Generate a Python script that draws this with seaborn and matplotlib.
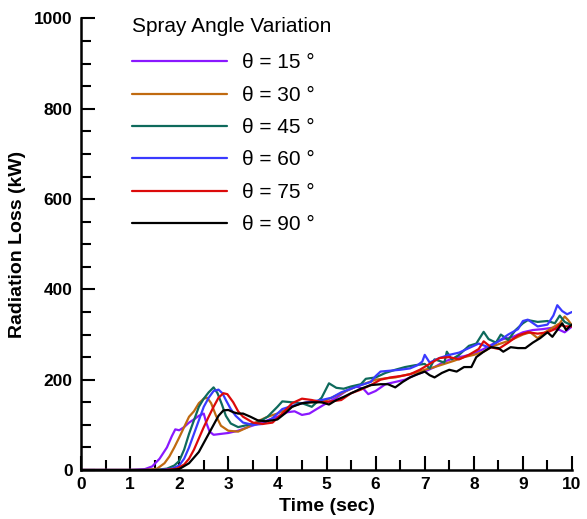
import numpy as np
import pandas as pd
import matplotlib
matplotlib.use("Agg")
import matplotlib.pyplot as plt
import seaborn as sns
from matplotlib.ticker import MultipleLocator
from matplotlib.lines import Line2D

# ---- data ----
t15 = [0, 1.0, 1.3, 1.45, 1.6, 1.75, 1.85, 1.92, 2.0, 2.1, 2.2, 2.3, 2.4, 2.5, 2.55, 2.62, 2.7, 2.85, 3.0, 3.2, 3.4, 3.6, 3.8, 4.0, 4.2, 4.35, 4.5, 4.65, 4.8, 5.0, 5.2, 5.4, 5.6, 5.75, 5.85, 6.0, 6.2, 6.4, 6.6, 6.8, 7.0, 7.2, 7.4, 7.6, 7.8, 8.0, 8.2, 8.4, 8.6, 8.8, 9.0, 9.2, 9.4, 9.6, 9.75, 9.85, 10.0]
v15 = [0, 0, 2, 8, 25, 50, 75, 90, 88, 95, 105, 112, 120, 125, 105, 85, 78, 80, 82, 87, 95, 102, 110, 118, 128, 130, 122, 125, 135, 148, 160, 175, 185, 180, 168, 175, 190, 195, 200, 210, 218, 228, 240, 248, 252, 258, 268, 280, 290, 295, 305, 310, 312, 315, 310, 305, 318]

t30 = [0, 1.3, 1.55, 1.7, 1.8, 1.9, 2.0, 2.1, 2.2, 2.3, 2.4, 2.5, 2.57, 2.65, 2.75, 2.85, 3.0, 3.2, 3.4, 3.6, 3.8, 4.0, 4.2, 4.4, 4.6, 4.8, 5.0, 5.2, 5.4, 5.6, 5.8, 6.0, 6.2, 6.4, 6.6, 6.8, 7.0, 7.2, 7.4, 7.6, 7.8, 8.0, 8.2, 8.4, 8.6, 8.8, 9.0, 9.15, 9.3, 9.45, 9.6, 9.75, 9.85, 9.92, 10.0]
v30 = [0, 0, 3, 15, 30, 50, 72, 95, 118, 130, 148, 158, 160, 148, 120, 98, 87, 85, 95, 108, 118, 125, 135, 145, 150, 150, 155, 165, 175, 185, 192, 200, 203, 205, 210, 215, 222, 228, 235, 242, 250, 255, 262, 275, 282, 290, 300, 305, 292, 305, 315, 325, 340, 332, 320]

t45 = [0, 1.5, 1.75, 1.9, 2.0, 2.1, 2.2, 2.3, 2.4, 2.5, 2.6, 2.7, 2.78, 2.87, 2.95, 3.05, 3.2, 3.4, 3.6, 3.8, 4.0, 4.1, 4.3, 4.5, 4.7, 4.9, 5.05, 5.2, 5.35, 5.5, 5.7, 5.8, 6.0, 6.2, 6.4, 6.6, 6.8, 7.0, 7.1, 7.2, 7.4, 7.45, 7.55, 7.7, 7.9, 8.05, 8.2, 8.3, 8.45, 8.55, 8.7, 8.85, 9.0, 9.1, 9.3, 9.5, 9.65, 9.75, 9.85, 10.0]
v45 = [0, 0, 3, 10, 20, 45, 80, 110, 140, 158, 172, 183, 170, 145, 120, 103, 95, 100, 105, 118, 140, 152, 150, 148, 140, 160, 192, 182, 180, 185, 190, 202, 205, 215, 222, 228, 232, 235, 225, 245, 238, 262, 245, 255, 275, 280, 306, 290, 282, 300, 288, 310, 325, 332, 328, 330, 325, 342, 328, 320]

t60 = [0, 1.6, 1.85, 2.0, 2.1, 2.2, 2.3, 2.4, 2.5, 2.6, 2.7, 2.8, 2.88, 2.95, 3.05, 3.15, 3.3, 3.5, 3.7, 3.9, 4.1, 4.3, 4.5, 4.7, 4.9, 5.1, 5.3, 5.5, 5.7, 5.9, 6.0, 6.1, 6.3, 6.5, 6.7, 6.85, 6.95, 7.0, 7.1, 7.3, 7.5, 7.7, 7.9, 8.1, 8.3, 8.5, 8.7, 8.9, 9.0, 9.1, 9.3, 9.5, 9.62, 9.7, 9.8, 9.9, 10.0]
v60 = [0, 0, 3, 10, 25, 50, 80, 110, 140, 160, 175, 178, 170, 155, 135, 120, 105, 100, 102, 115, 135, 142, 148, 152, 155, 160, 172, 180, 188, 195, 208, 218, 220, 222, 225, 232, 240, 255, 238, 248, 255, 260, 270, 280, 272, 285, 300, 312, 330, 333, 318, 322, 342, 365, 352, 345, 350]

t75 = [0, 1.7, 1.95, 2.1, 2.2, 2.3, 2.4, 2.5, 2.6, 2.7, 2.8, 2.9, 2.98, 3.1, 3.2, 3.3, 3.5, 3.7, 3.9, 4.1, 4.3, 4.5, 4.7, 4.9, 5.1, 5.3, 5.5, 5.7, 5.9, 6.1, 6.3, 6.5, 6.7, 6.9, 7.1, 7.3, 7.5, 7.7, 7.9, 8.1, 8.2, 8.35, 8.5, 8.7, 8.9, 9.1, 9.3, 9.5, 9.65, 9.75, 9.85, 10.0]
v75 = [0, 0, 3, 12, 25, 45, 70, 95, 118, 140, 160, 170, 168, 150, 130, 118, 105, 102, 105, 125, 148, 158, 155, 150, 152, 155, 170, 178, 188, 200, 205, 208, 212, 222, 235, 248, 250, 245, 255, 268, 285, 272, 268, 282, 298, 305, 302, 305, 312, 322, 318, 318]

t90 = [0, 1.8, 2.0, 2.2, 2.4, 2.5, 2.6, 2.7, 2.8, 2.9, 3.0, 3.1, 3.2, 3.3, 3.45, 3.6, 3.75, 3.9, 4.0, 4.15, 4.3, 4.5, 4.7, 4.9, 5.05, 5.2, 5.35, 5.5, 5.7, 5.9, 6.1, 6.25, 6.4, 6.55, 6.7, 6.85, 7.0, 7.1, 7.2, 7.35, 7.5, 7.65, 7.8, 7.95, 8.05, 8.2, 8.35, 8.5, 8.6, 8.75, 8.9, 9.05, 9.2, 9.35, 9.5, 9.6, 9.7, 9.8, 9.88, 9.95, 10.0]
v90 = [0, 0, 2, 15, 40, 60, 80, 100, 120, 132, 133, 128, 125, 125, 118, 110, 108, 110, 112, 125, 140, 148, 150, 150, 145, 155, 162, 170, 180, 188, 190, 190, 183, 195, 205, 212, 218, 210, 205, 215, 222, 218, 228, 228, 250, 262, 272, 270, 262, 272, 270, 270, 282, 292, 305, 295, 310, 325, 310, 318, 322]

labels = ["θ = 15 °", "θ = 30 °", "θ = 45 °", "θ = 60 °", "θ = 75 °", "θ = 90 °"]
colors = ["#8a18ff", "#c06a10", "#0e6a5c", "#3a3aff", "#dc0a0a", "#000000"]

series = [(t15, v15), (t30, v30), (t45, v45), (t60, v60), (t75, v75), (t90, v90)]
frames = []
for lab, (t, v) in zip(labels, series):
    frames.append(pd.DataFrame({"Time": t, "Loss": v, "Angle": lab}))
df = pd.concat(frames, ignore_index=True)

sns.set_style("ticks")
plt.rcParams['font.family'] = ['Liberation Sans', 'DejaVu Sans']
plt.rcParams['text.color'] = 'black'
plt.rcParams['axes.labelcolor'] = 'black'
plt.rcParams['xtick.color'] = 'black'
plt.rcParams['ytick.color'] = 'black'

fig = plt.figure(figsize=(5.87, 5.19), dpi=100)
ax = fig.add_axes([0.138, 0.0944, 0.8365, 0.870])

sns.lineplot(data=df, x="Time", y="Loss", hue="Angle", palette=dict(zip(labels, colors)),
             hue_order=labels, units="Angle", estimator=None, sort=False, lw=1.6, ax=ax, legend=False)

ax.set_xlim(0, 10)
ax.set_ylim(0, 1000)
ax.xaxis.set_major_locator(MultipleLocator(1))
ax.xaxis.set_minor_locator(MultipleLocator(0.5))
ax.yaxis.set_major_locator(MultipleLocator(200))
ax.yaxis.set_minor_locator(MultipleLocator(50))
ax.tick_params(which="both", direction="in", width=1.5, color="black", labelcolor="black")
ax.tick_params(which="major", length=10, labelsize=12.5)
ax.tick_params(axis="y", which="major", pad=6)
ax.tick_params(axis="x", which="major", pad=5)
ax.tick_params(which="minor", length=7)
for lbl in ax.get_xticklabels() + ax.get_yticklabels():
    lbl.set_fontweight("bold")
for s in ["top", "right"]:
    ax.spines[s].set_visible(False)
for s in ["left", "bottom"]:
    ax.spines[s].set_linewidth(1.8)
    ax.spines[s].set_color("black")

ax.set_xlabel("Time (sec)", fontsize=14, fontweight="bold", labelpad=4, color="black")
ax.set_ylabel("Radiation Loss (kW)", fontsize=14, fontweight="bold", labelpad=6, color="black")

handles = [Line2D([0], [0], color=c, lw=1.6) for c in colors]
leg = ax.legend(handles, labels, title="Spray Angle Variation", loc="upper left",
                bbox_to_anchor=(0.103, 1.003), frameon=False, fontsize=15, title_fontsize=15,
                handlelength=4.6, handletextpad=0.72, labelspacing=0.64,
                borderpad=0, borderaxespad=0)
leg._legend_box.align = "left"
leg._legend_box.sep = 12.5
for txt in leg.get_texts():
    txt.set_color("black")
leg.get_title().set_color("black")

fig.savefig("out.png", dpi=100)
